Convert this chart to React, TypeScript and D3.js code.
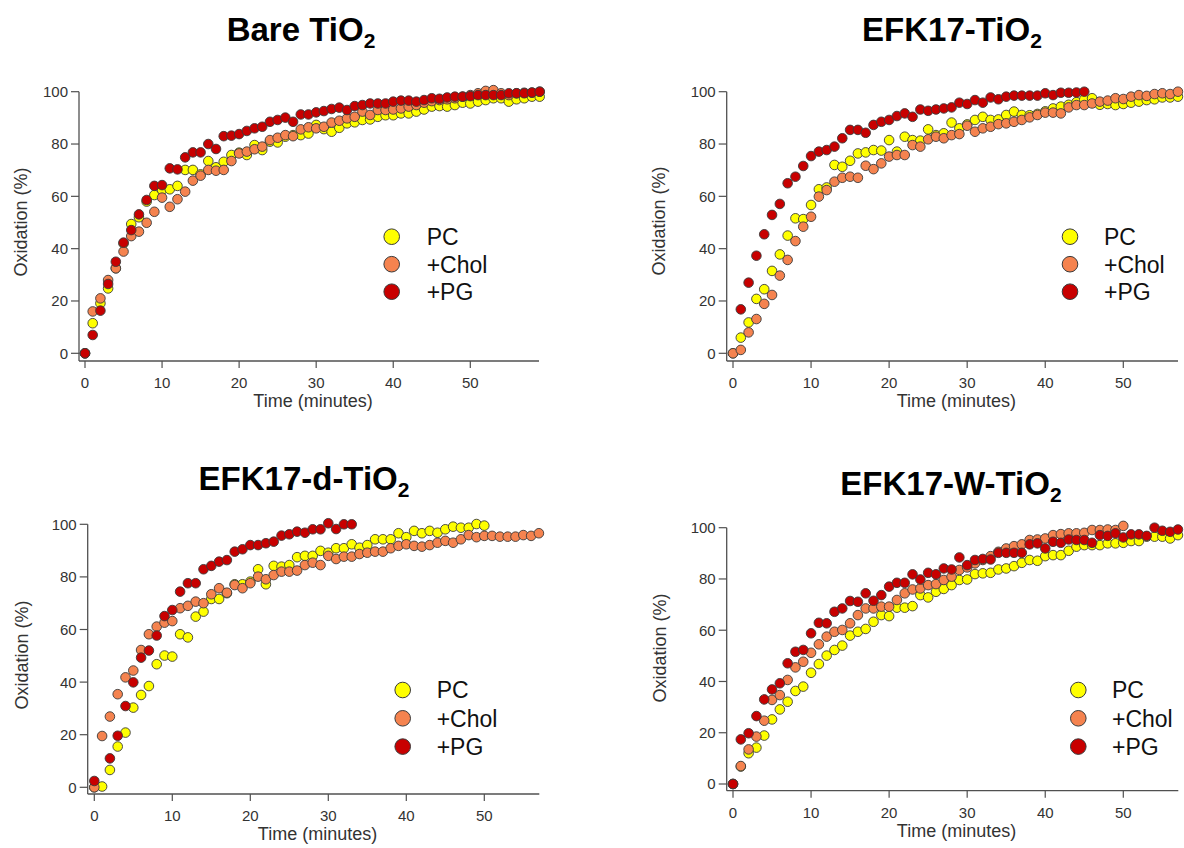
import React from 'react';
import * as d3 from 'd3';

// ---------- DATA (oxidation %, one value per minute starting at t = 0; null = no point) ----------
const seriesNames = ['PC', '+Chol', '+PG'];
const seriesColors = ['#ffff00', '#f5834f', '#c80000'];
const xTicks = [0, 10, 20, 30, 40, 50];
const yTicks = [0, 20, 40, 60, 80, 100];

const barePC = [0, 11.5, 19.1, 24.8, 32.5, 42, 49.4, 52, 58, 60.5, 62.4, 62.7, 64, 70.1, 70.1, 68.4, 73.5, 71.1, 73.2, 75.8, 76.7, 75.8, 79.6, 77.7, 80.9, 80.6, 82.8, 83.4, 83.4, 84, 87.3, 85.7, 84.7, 86.2, 87.9, 88.3, 89.2, 89.4, 90.4, 91, 91, 91.7, 91.7, 92.4, 93.2, 94.3, 94.5, 94.3, 94.9, 95.8, 95.5, 96.2, 96.8, 97.5, 97.5, 96.2, 97.1, 97.5, 98.1, 98.1];
const bareChol = [0, 16, 21, 28, 32.5, 38.9, 44.8, 46.5, 49.9, 54.1, 59.5, 56, 58.9, 61.8, 66, 67.9, 70.1, 69.8, 70.1, 73.5, 76.4, 77.1, 78, 79, 81.5, 82.4, 83.4, 83, 85.6, 86.4, 86, 86.6, 88.2, 88.9, 89.8, 90.4, 92.4, 91.1, 93, 93, 93.2, 93.6, 94.3, 94.9, 95.8, 96.4, 96.8, 97.1, 97.5, 98.1, 98.7, 99.4, 100.3, 100.6, 99.4, 98.7, 99.4, 99.6, 99.6, 100];
const barePG = [0, 7, 16.3, 26.5, 35, 42.3, 47.1, 53.1, 58.6, 64, 64.3, 70.7, 70.3, 74.9, 76.8, 76.8, 80, 78.1, 83, 83.2, 83.8, 85, 86, 86.6, 88.5, 89.2, 90.1, 88.5, 91.3, 91.3, 92.1, 92.6, 93.4, 93.9, 93, 94.5, 94.9, 95.5, 95.5, 95.5, 96.2, 96.6, 96.6, 96.2, 96.8, 97.5, 97.3, 97.8, 98.1, 98.1, 98.3, 98.7, 98.7, 98.7, 98.7, 99.4, 99.4, 99.4, 99.7, 100];

const efkPC = [0, 6, 11.8, 20.8, 24.5, 31.5, 37.8, 45, 51.6, 51.3, 56.7, 62.7, 63.4, 72, 71.3, 73.6, 76.4, 76.8, 77.7, 77.5, 81.5, 77.1, 82.8, 81.5, 81.3, 85.6, 83.4, 84.1, 88.2, 86, 87.5, 89.2, 90.4, 89.2, 89.4, 91.1, 92.4, 91.1, 91, 91.5, 92.5, 93.6, 94.3, 95, 96, 97, 97.5, 95, 95.3, 94.9, 95.3, 95.8, 96.2, 96.8, 97.1, 97.8, 97.8, 98.1];
const efkChol = [0, 1.3, 8, 13.1, 18.9, 22.3, 29.7, 35.7, 42.9, 48.4, 52.2, 59.9, 62.4, 65.6, 67.1, 67.5, 67.1, 71.7, 70.4, 72.6, 75.2, 75.8, 75.8, 79.6, 79, 81.8, 82.8, 82.2, 83.4, 83.8, 87, 84.7, 86, 86.6, 87.6, 87.9, 88.5, 89.2, 90.2, 91.1, 92, 92, 91.7, 94, 94.9, 94.9, 95.5, 96.2, 96.6, 97.5, 97.2, 98.1, 98.7, 98.4, 99.1, 99.4, 99.1, 100];
const efkPG = [null, 16.8, 27, 37.3, 45.5, 52.9, 57.1, 65, 67.5, 71.6, 75.4, 77.1, 77.7, 79, 82.2, 85.4, 85.4, 84.3, 87.3, 88.5, 89.2, 90.7, 91.7, 90.4, 93.2, 92.7, 93.2, 93.6, 94, 95.8, 95.3, 96.8, 95.8, 97.8, 97.1, 98.1, 98.5, 98.5, 98.5, 98.5, 99.4, 98.7, 99.6, 99.6, 99.7, 100];

const dPC = [0, 0.3, 6.6, 15.5, 20.8, 30.3, 35.1, 38.5, 46.8, 50.1, 49.7, 58.2, 57, 64.9, 66.8, 71.6, 71.6, 73.8, 77.2, 77.2, 78.2, 82.9, 77.2, 84.2, 83.9, 84.5, 87.5, 88, 88, 89.9, 89.2, 90.9, 90.9, 92.4, 91.1, 92.1, 94.3, 94.3, 94.3, 96.6, 95.1, 97.5, 96.6, 97.5, 96.8, 98.1, 99.1, 98.7, 98.7, 100.1, 99.5];
const dChol = [0, 19.5, 26.9, 35.4, 41.8, 44.4, 52.2, 58.2, 61.1, 62.6, 63.2, 68.1, 69, 70.6, 70, 73.4, 75.7, 74, 76.9, 75.7, 77.6, 80.1, 79.1, 80.7, 82, 82, 82.4, 84.5, 85.4, 84.5, 88, 86.8, 87.7, 87.7, 88.7, 89.2, 89.6, 89.6, 90.9, 91.8, 92.4, 91.8, 91.5, 92.1, 93, 93.7, 93, 94.3, 95.9, 95.1, 95.6, 95.6, 95.3, 95.3, 95.3, 95.9, 95.6, 96.6];
const dPG = [2.4, null, 11, 19.6, 30.9, 39.9, 49.3, 52, 57.7, 65.1, 67.4, 74.4, 77.6, 77.6, 82.9, 84.2, 85.8, 86.4, 89.6, 90.5, 92.1, 92.1, 92.8, 93.4, 95.7, 96.2, 97.2, 96.8, 98.1, 98.1, 100.4, 98.2, 100, 100];

const wPC = [0, 6.8, 12, 14.2, 18.9, 25.2, 29.1, 32.1, 36.3, 38, 43.4, 46.8, 50.1, 52.3, 54, 57.9, 59.4, 60.5, 63.3, 65.9, 65.5, 68.8, 68.8, 69.4, 73.7, 72.8, 75, 76.1, 77.6, 79.6, 79.8, 81.9, 82.2, 82.4, 83.7, 84.1, 85, 86.3, 87.4, 87.1, 88.9, 89.3, 89.3, 91, 92.6, 93.2, 93.2, 93.2, 93.9, 93.9, 94.1, 94.8, 94.8, 96.5, 96.5, 96.5, 95.8, 97.1];
const wChol = [0, 7, 13.5, 18.5, 24.7, 32.8, 34.7, 40.6, 45.5, 47.7, 51.2, 54.5, 57.5, 59.4, 60.1, 62.7, 65.9, 68.5, 68.5, 69.2, 69.2, 71.8, 74.4, 75.9, 76.3, 77.6, 78, 79.6, 80.9, 83.5, 84.5, 86.1, 87.4, 88.9, 90.6, 91.9, 92.8, 93.5, 95.2, 95.4, 95.8, 97.1, 97.5, 97.8, 97.8, 98, 99.1, 99.1, 99.3, 99.1, 100.7];
const wPG = [0, 17.4, 19.8, 26.5, 33, 36.9, 39.3, 47.1, 51.6, 52.3, 58.8, 62.9, 62.7, 67.2, 68.5, 71.4, 71.1, 74.4, 71.5, 73.7, 77, 78.5, 78.5, 81.8, 79.8, 82.4, 81.8, 84.1, 83.7, 88.4, 85.4, 87.4, 87.8, 87.6, 90.2, 90.2, 90.2, 90.2, 93.5, 93.9, 91.9, 94.5, 94.1, 95.4, 95.2, 95.2, 94.1, 97.1, 96.8, 97.8, 96.2, 97.4, 97.4, 96.8, 100, 98.8, 98.4, 99.3];

const titleMain = ['Bare TiO', 'EFK17-TiO', 'EFK17-d-TiO', 'EFK17-W-TiO'];
const titleSub = '2';
const xLabel = 'Time (minutes)';
const yLabel = 'Oxidation (%)';

// ---------- LAYOUT ----------
type Layout = {
  x0: number; x50: number; axL: number; axR: number;
  y0: number; y100: number; axB: number;
  titleX: number; titleY: number; yLabX: number; yLabY: number;
  legX: number; legY: number; legTextX: number; legDy: number;
};

const layouts: Layout[] = [
  { x0: 85, x50: 470.3, axL: 79, axR: 539, y0: 353.3, y100: 91.7, axB: 361, titleX: 301, titleY: 40.5, yLabX: 27, yLabY: 222, legX: 391.7, legY: 236.7, legTextX: 426.7, legDy: 27.5 },
  { x0: 733, x50: 1123.3, axL: 726.7, axR: 1178, y0: 353.3, y100: 91.7, axB: 361, titleX: 952, titleY: 40.5, yLabX: 665, yLabY: 221, legX: 1070, legY: 236.7, legTextX: 1104, legDy: 27.5 },
  { x0: 94.3, x50: 484.3, axL: 87.7, axR: 539.3, y0: 787.3, y100: 524.3, axB: 794, titleX: 304, titleY: 489.5, yLabX: 28, yLabY: 655, legX: 402.7, legY: 690, legTextX: 436.7, legDy: 28.3 },
  { x0: 733, x50: 1123.3, axL: 726.7, axR: 1178.3, y0: 784, y100: 527.7, axB: 790.7, titleX: 951, titleY: 495, yLabX: 666, yLabY: 648, legX: 1078.3, legY: 690, legTextX: 1112, legDy: 28.3 },
];

const panelData: (number | null)[][][] = [
  [barePC, bareChol, barePG],
  [efkPC, efkChol, efkPG],
  [dPC, dChol, dPG],
  [wPC, wChol, wPG],
];

const FONT = '"Liberation Sans", Arial, Helvetica, sans-serif';
const AXIS = '#505050';
const TXT = '#333333';
const STROKE = '#3a3a3a';

function Panel({ idx }: { idx: number }) {
  const L = layouts[idx];
  const x = d3.scaleLinear().domain([0, 50]).range([L.x0, L.x50]);
  const y = d3.scaleLinear().domain([0, 100]).range([L.y0, L.y100]);
  const series = panelData[idx];
  return (
    <g>
      <text x={L.titleX} y={L.titleY} textAnchor="middle" fontFamily={FONT} fontWeight="bold" fontSize={33} fill="#000">
        {titleMain[idx]}
        <tspan fontSize={21} dy={7}>{titleSub}</tspan>
      </text>
      {/* axes */}
      <line x1={L.axL} x2={L.axL} y1={y(100)} y2={L.axB} stroke={AXIS} strokeWidth={1.3} />
      <line x1={L.axL} x2={L.axR} y1={L.axB} y2={L.axB} stroke={AXIS} strokeWidth={1.3} />
      {yTicks.map((t) => (
        <g key={'y' + t}>
          <line x1={L.axL - 8} x2={L.axL} y1={y(t)} y2={y(t)} stroke={AXIS} strokeWidth={1.2} />
          <text x={L.axL - 11} y={y(t)} dy="0.36em" textAnchor="end" fontFamily={FONT} fontSize={15} fill={TXT}>{t}</text>
        </g>
      ))}
      {xTicks.map((t) => (
        <g key={'x' + t}>
          <line x1={x(t)} x2={x(t)} y1={L.axB} y2={L.axB + 7} stroke={AXIS} strokeWidth={1.2} />
          <text x={x(t)} y={L.axB + 27} textAnchor="middle" fontFamily={FONT} fontSize={15} fill={TXT}>{t}</text>
        </g>
      ))}
      <text x={(L.axL + L.axR) / 2 + 4} y={L.axB + 46} textAnchor="middle" fontFamily={FONT} fontSize={18} fill={TXT}>{xLabel}</text>
      <text transform={`translate(${L.yLabX},${L.yLabY}) rotate(-90)`} textAnchor="middle" fontFamily={FONT} fontSize={18} fill={TXT}>{yLabel}</text>
      {/* points */}
      {series.map((vals, si) => (
        <g key={'s' + si}>
          {vals.map((v, t) =>
            v === null ? null : (
              <circle key={t} cx={x(t)} cy={y(v)} r={4.8} fill={seriesColors[si]} stroke={STROKE} strokeWidth={0.9} />
            )
          )}
        </g>
      ))}
      {/* legend */}
      {seriesNames.map((name, si) => (
        <g key={'l' + si}>
          <circle cx={L.legX} cy={L.legY + si * L.legDy} r={7.8} fill={seriesColors[si]} stroke={STROKE} strokeWidth={1} />
          <text x={L.legTextX} y={L.legY + si * L.legDy + 8.3} fontFamily={FONT} fontSize={23} fill="#111">{name}</text>
        </g>
      ))}
    </g>
  );
}

export default function App() {
  return (
    <svg width={1184} height={848} viewBox="0 0 1184 848" style={{ position: 'absolute', left: 0, top: 0, background: '#fff' }}>
      <rect x={0} y={0} width={1184} height={848} fill="#fff" />
      {layouts.map((_, i) => (
        <Panel key={i} idx={i} />
      ))}
    </svg>
  );
}
